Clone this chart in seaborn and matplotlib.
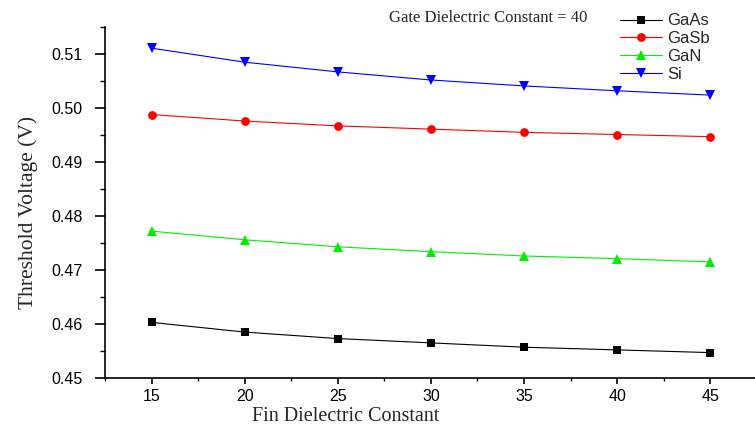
import matplotlib
matplotlib.use("Agg")
import matplotlib.pyplot as plt
from matplotlib.ticker import MultipleLocator, FormatStrFormatter
import seaborn as sns
import pandas as pd

# Fin dielectric constant sweep (gate dielectric constant fixed at 40)
fin_k = [15, 20, 25, 30, 35, 40, 45]
vth_gaas = [0.4603, 0.4585, 0.4573, 0.4565, 0.4557, 0.4552, 0.4547]
vth_gasb = [0.4988, 0.4976, 0.4967, 0.4961, 0.4955, 0.4951, 0.4947]
vth_gan = [0.4772, 0.4756, 0.4743, 0.4734, 0.4726, 0.4721, 0.4715]
vth_si = [0.5111, 0.5085, 0.5067, 0.5052, 0.5041, 0.5032, 0.5024]

materials = ["GaAs", "GaSb", "GaN", "Si"]
series = [vth_gaas, vth_gasb, vth_gan, vth_si]

df = pd.DataFrame(
    [(k, v, m) for m, vals in zip(materials, series) for k, v in zip(fin_k, vals)],
    columns=["fin_k", "vth", "material"],
)

palette = {"GaAs": "#000000", "GaSb": "#ff0000", "GaN": "#00ee00", "Si": "#0000ff"}
markers = {"GaAs": "s", "GaSb": "o", "GaN": "^", "Si": "v"}
msizes = {"GaAs": 5.5, "GaSb": 6.3, "GaN": 7.5, "Si": 7.5}

sns.set_theme(style="ticks")
plt.rcParams["font.family"] = ["Liberation Sans", "DejaVu Sans"]

fig = plt.figure(figsize=(7.55, 4.30), dpi=100)
ax = fig.add_axes([0.139, 0.121, 0.866, 0.816])

for m in materials:
    sub = df[df["material"] == m]
    sns.lineplot(
        data=sub, x="fin_k", y="vth", ax=ax, color=palette[m], lw=0.8,
        marker=markers[m], markersize=msizes[m], markeredgewidth=0,
        label=m, legend=False,
    )

ax.set_xlim(12.5, 47.6)
ax.set_ylim(0.45, 0.515)
ax.xaxis.set_major_locator(MultipleLocator(5))
ax.xaxis.set_minor_locator(MultipleLocator(2.5))
ax.yaxis.set_major_locator(MultipleLocator(0.01))
ax.yaxis.set_minor_locator(MultipleLocator(0.005))
ax.yaxis.set_major_formatter(FormatStrFormatter("%.2f"))
ax.tick_params(which="both", direction="out", labelsize=11.5, colors="black")
ax.tick_params(axis="x", which="major", length=4.5, width=1.2, pad=3.5)
ax.tick_params(axis="x", which="minor", length=2.5, width=1.0)
ax.tick_params(axis="y", which="major", length=7, width=1.2, pad=9)
ax.tick_params(axis="y", which="minor", length=3.6, width=1.0)
for s in ("top", "right"):
    ax.spines[s].set_visible(False)
for s in ("left", "bottom"):
    ax.spines[s].set_linewidth(1.2)
    ax.spines[s].set_color("black")

ax.set_xlabel("Fin Dielectric Constant", family=["Liberation Serif"], fontsize=14.5)
ax.set_ylabel("Threshold Voltage (V)", family=["Liberation Serif"], fontsize=15.5)
ax.xaxis.set_label_coords(0.3685, -0.111)
ax.yaxis.set_label_coords(-0.118, 0.473)
ax.xaxis.label.set_verticalalignment("center")
ax.yaxis.label.set_verticalalignment("center")

fig.text(0.647, 0.958, "Gate Dielectric Constant = 40", family=["Liberation Serif"],
         fontsize=12, ha="center", va="center")

handles, labels = ax.get_legend_handles_labels()
fig.legend(handles, labels, loc="upper left", bbox_to_anchor=(0.806, 0.996),
           frameon=False, fontsize=12, handlelength=2.5, handletextpad=0.3,
           labelspacing=0.17, borderaxespad=0.3)

fig.savefig("out.png", dpi=100)
